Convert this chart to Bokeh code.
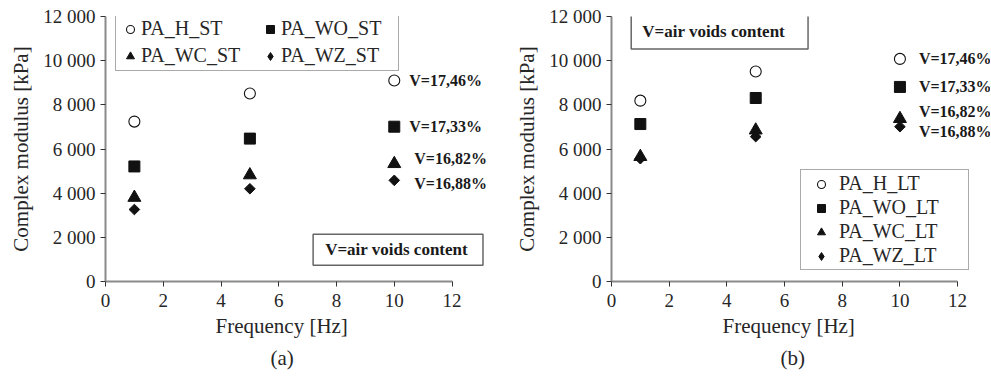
from bokeh.plotting import figure
from bokeh.models import (Range1d, FixedTicker, Legend, LegendItem, Label, LabelSet,
                          ColumnDataSource, Title)
from bokeh.layouts import row
from bokeh.core.properties import value
from bokeh.embed import file_html
from bokeh.resources import INLINE

# ---------------- data ----------------
freq = [1, 5, 10]

series_names_st = ["PA_H_ST", "PA_WO_ST", "PA_WC_ST", "PA_WZ_ST"]
pa_h_st = [7240, 8510, 9100]
pa_wo_st = [5210, 6470, 7010]
pa_wc_st = [3800, 4820, 5330]
pa_wz_st = [3260, 4200, 4580]

series_names_lt = ["PA_H_LT", "PA_WO_LT", "PA_WC_LT", "PA_WZ_LT"]
pa_h_lt = [8190, 9510, 10080]
pa_wo_lt = [7130, 8310, 8810]
pa_wc_lt = [5650, 6850, 7370]
pa_wz_lt = [5560, 6560, 7010]

void_labels = ["V=17,46%", "V=17,33%", "V=16,82%", "V=16,88%"]
note_text = "V=air voids content"

x_ticks = [0, 2, 4, 6, 8, 10, 12]
y_ticks = [0, 2000, 4000, 6000, 8000, 10000, 12000]
y_tick_labels = ["0", "2 000", "4 000", "6 000", "8 000", "10 000", "12 000"]

x_label = "Frequency [Hz]"
y_label = "Complex modulus [kPa]"

# ---------------- styles ----------------
FONT = "Liberation Serif"
TXT = "#262626"
DARK = "#111111"
markers = [
    dict(marker="circle", size=11, fill_color="white", line_color=DARK, line_width=1.1),
    dict(marker="square", size=11, fill_color=DARK, line_color=DARK, line_width=1),
    dict(marker="triangle", size=13, fill_color=DARK, line_color=DARK, line_width=1),
    dict(marker="square", size=7.5, angle=0.785398, fill_color=DARK, line_color=DARK, line_width=1),
]
legend_markers = [
    dict(marker="circle", fill_color="white", line_color=DARK, line_width=1.1),
    dict(marker="square", fill_color=DARK, line_color=DARK, line_width=1),
    dict(marker="triangle", fill_color=DARK, line_color=DARK, line_width=1),
    dict(marker="diamond", fill_color=DARK, line_color=DARK, line_width=1),
]
NAN = float("nan")


def make_panel(series, names, width, left_border, x_end, caption,
               label_xoff, label_yoff, note_x, note_y, note_pad,
               legend_loc, legend_cols, legend_order, legend_kw,
               xlabel_offset, caption_offset):
    p = figure(width=width, height=378, output_backend="svg", toolbar_location=None,
               x_range=Range1d(0, x_end), y_range=Range1d(0, 12000),
               min_border_left=left_border, min_border_right=0,
               min_border_top=16, min_border_bottom=97)
    p.outline_line_color = None
    p.grid.visible = False
    p.background_fill_color = "white"
    p.border_fill_color = "white"

    for ax in (p.xaxis[0], p.yaxis[0]):
        ax.axis_line_color = "#8a8a8a"
        ax.axis_line_width = 2
        ax.major_tick_line_color = "#333333"
        ax.major_tick_line_width = 1
        ax.major_tick_in = 0
        ax.major_tick_out = 5
        ax.minor_tick_line_color = None
        ax.major_label_text_font = FONT
        ax.major_label_text_font_size = "19px"
        ax.major_label_text_color = TXT
        ax.axis_label_text_font = FONT
        ax.axis_label_text_font_size = "21px"
        ax.axis_label_text_font_style = "normal"
        ax.axis_label_text_color = TXT

    p.xaxis.bounds = (0, 12)
    p.xaxis.ticker = FixedTicker(ticks=x_ticks)
    p.yaxis.ticker = FixedTicker(ticks=y_ticks)
    p.yaxis.major_label_overrides = {t: s for t, s in zip(y_ticks, y_tick_labels)}
    p.yaxis.axis_label = y_label
    p.xaxis.major_label_standoff = 7
    p.yaxis.major_label_standoff = 5
    p.yaxis.axis_label_standoff = 7

    # x-axis title and panel caption, left-aligned under the 0..12 axis
    p.add_layout(Title(text=x_label, align="left", offset=xlabel_offset, standoff=4,
                       text_font=FONT, text_font_size="21px", text_font_style="normal",
                       text_color=TXT), "below")
    p.add_layout(Title(text=caption, align="left", offset=caption_offset, standoff=9,
                       text_font=FONT, text_font_size="21px", text_font_style="normal",
                       text_color=TXT), "below")

    items = []
    for vals, name, mk, lmk in zip(series, names, markers, legend_markers):
        src = ColumnDataSource(dict(x=freq, y=vals))
        p.scatter("x", "y", source=src, **mk)
        # legend key only (no position of its own)
        lr = p.scatter(x=[NAN], y=[NAN], **lmk)
        items.append(LegendItem(label=name, renderers=[lr]))
    items = [items[i] for i in legend_order]

    legend = Legend(items=items, location=legend_loc, ncols=legend_cols,
                    border_line_color="#555555", border_line_width=1.5,
                    background_fill_color="white", background_fill_alpha=1,
                    margin=0, label_text_font=FONT, label_text_font_size="20px",
                    label_text_color=TXT, label_standoff=0, **legend_kw)
    p.add_layout(legend, "center")

    lab_src = ColumnDataSource(dict(
        x=[freq[-1]] * 4,
        y=[s[-1] for s in series],
        text=void_labels,
        xo=label_xoff,
        yo=label_yoff,
    ))
    p.add_layout(LabelSet(x="x", y="y", text="text", source=lab_src,
                          x_offset="xo", y_offset="yo",
                          text_font=value(FONT), text_font_size=value("16px"),
                          text_font_style="bold",
                          text_color="#1a1a1a", text_baseline="middle", text_align="left"))

    p.add_layout(Label(x=note_x, y=note_y, text=note_text, text_font=FONT,
                       text_font_size="17px", text_font_style="bold", text_color="#1a1a1a",
                       text_baseline="middle", text_align="left", padding=note_pad,
                       border_line_color="#666666", border_line_width=1.5,
                       background_fill_color="white"))
    return p


p1 = make_panel([pa_h_st, pa_wo_st, pa_wc_st, pa_wz_st], series_names_st,
                width=496, left_border=105, x_end=13.54, caption="(a)",
                label_xoff=[15, 15, 20, 20], label_yoff=[0, 0, 5, -3],
                note_x=7.19, note_y=1437, note_pad=(12, 15, 6, 6),
                legend_loc=(10, 210), legend_cols=2, legend_order=[0, 2, 1, 3],
                legend_kw=dict(padding=3, spacing=4, glyph_width=22, glyph_height=20,
                               label_width=114),
                xlabel_offset=110, caption_offset=165)

p2 = make_panel([pa_h_lt, pa_wo_lt, pa_wc_lt, pa_wz_lt], series_names_lt,
                width=494, left_border=115, x_end=13.14, caption="(b)",
                label_xoff=[19, 19, 19, 19], label_yoff=[0, 0, 7, -5],
                note_x=0.683, note_y=11320, note_pad=(11, 23, 8, 8),
                legend_loc=(189, 11), legend_cols=1, legend_order=[0, 1, 2, 3],
                legend_kw=dict(padding=2, spacing=1, glyph_width=36, glyph_height=20,
                               label_width=127),
                xlabel_offset=111, caption_offset=169)

layout = row(p1, p2)
open("out.html", "w").write(file_html(layout, INLINE))
